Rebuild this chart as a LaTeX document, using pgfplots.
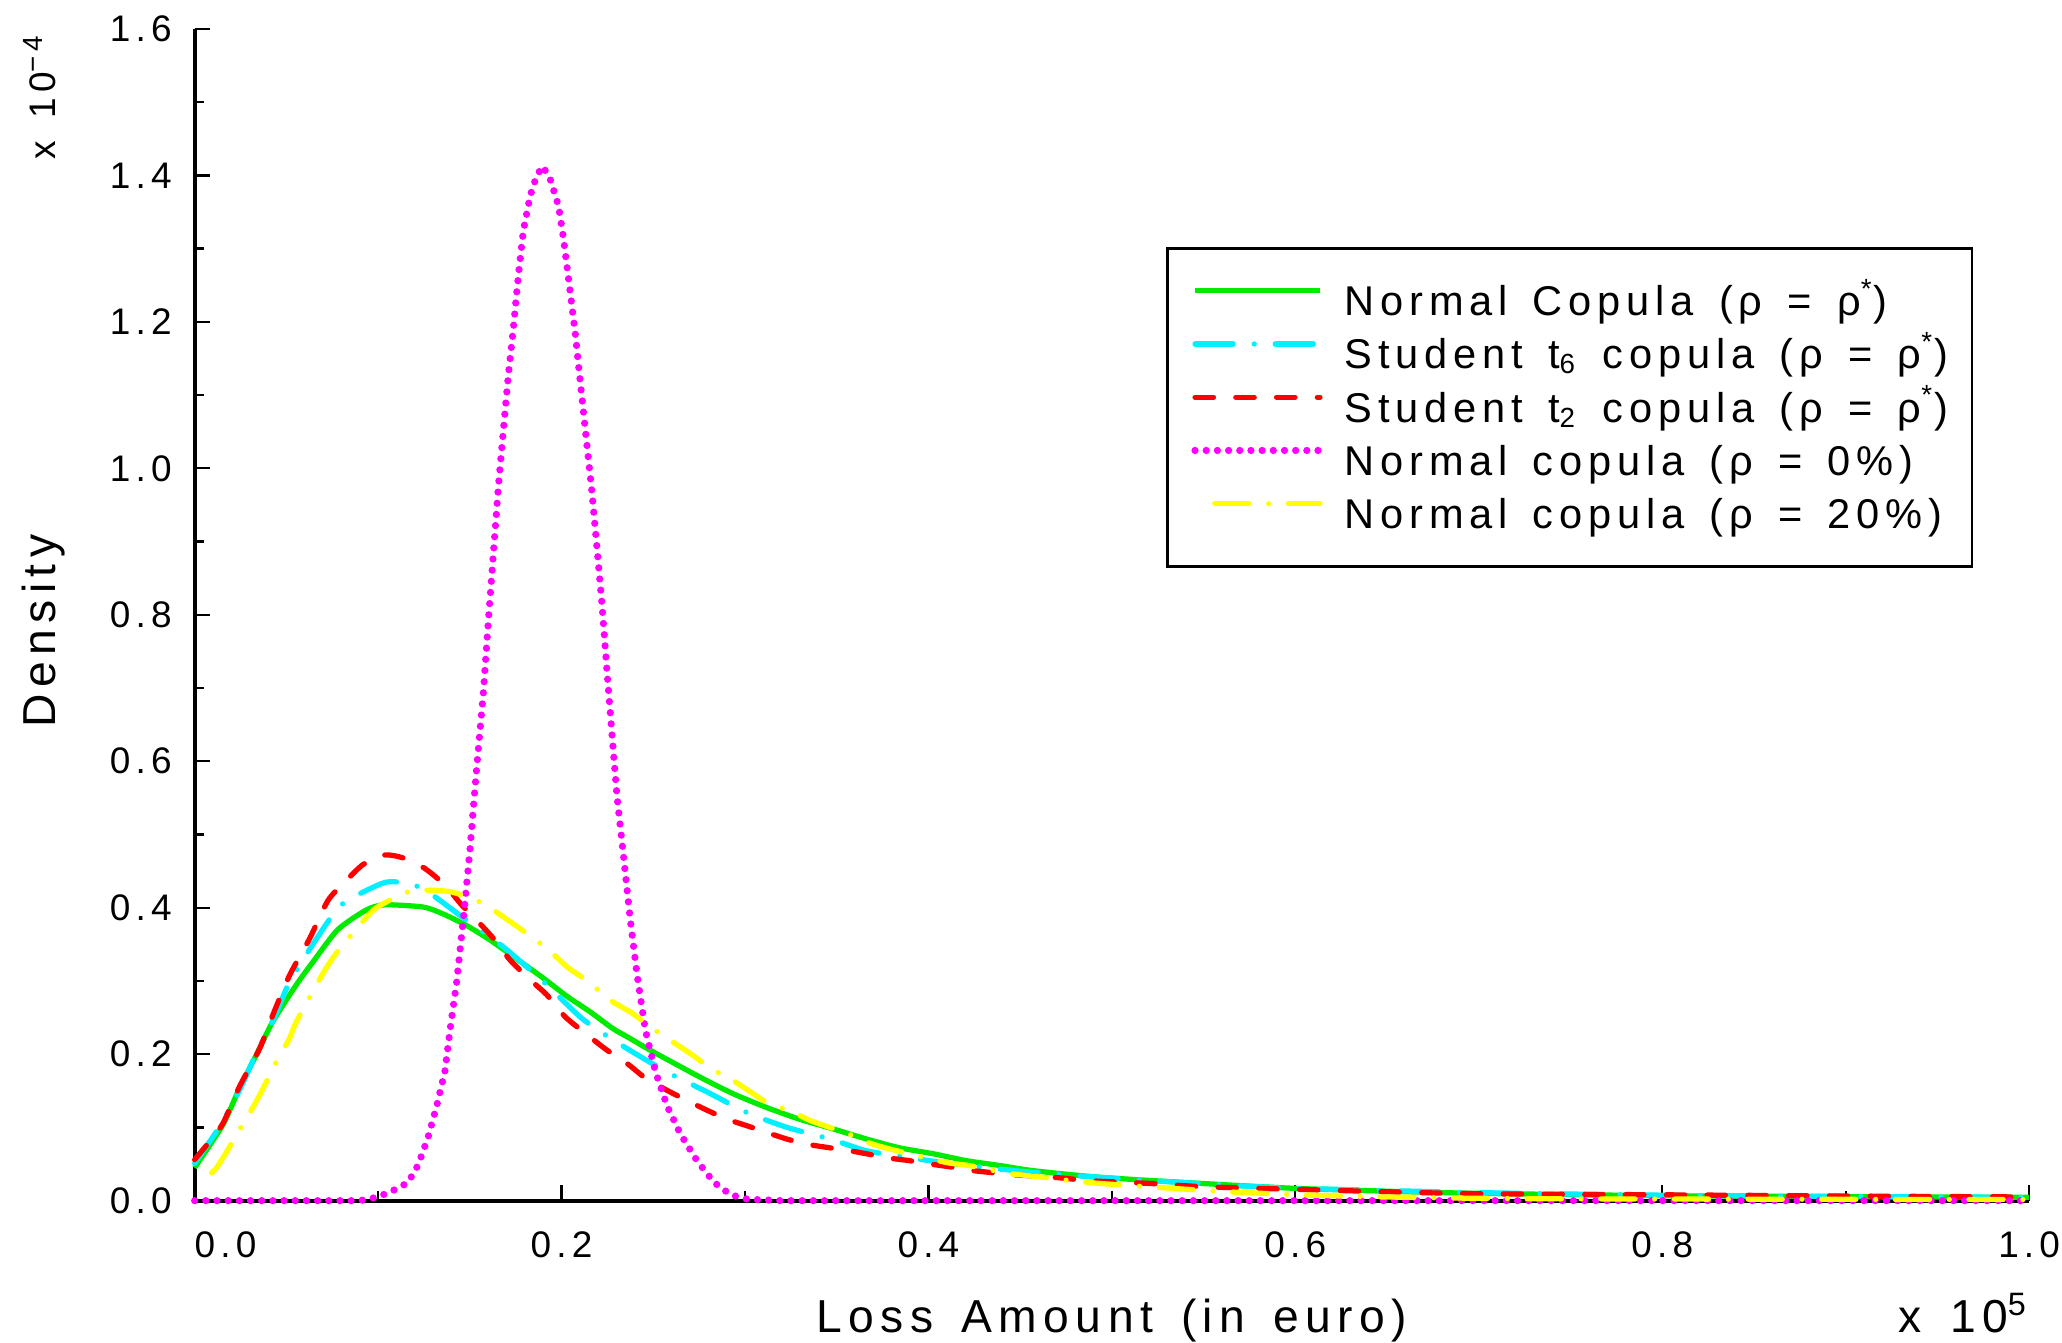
\documentclass[border=0pt]{standalone}
\usepackage{fontspec}
\setmainfont{Liberation Sans}[LetterSpace=14, WordSpace=1.45]
\usepackage{pgfplots}
\pgfplotsset{compat=1.18}
\definecolor{cgreen}{RGB}{0,235,0}
\definecolor{ccyan}{RGB}{0,240,255}
\definecolor{cred}{RGB}{255,0,0}
\definecolor{cmag}{RGB}{255,0,255}
\definecolor{cyel}{RGB}{255,255,0}

\begin{document}
\begin{tikzpicture}
\begin{axis}[
  scale only axis, width=139.5mm, height=89.1mm,
  xmin=0, xmax=1, ymin=0, ymax=1.6,
  clip=false,
  axis lines*=left,
  axis line style={line width=0.9pt},
  xtick={0,0.2,0.4,0.6,0.8,1},
  xticklabels={\makebox[0pt][l]{0.0},0.2,0.4,0.6,0.8,1.0},
  minor xtick={0.1,0.3,0.5,0.7,0.9},
  ytick={0,0.2,0.4,0.6,0.8,1,1.2,1.4,1.6},
  yticklabels={0.0,0.2,0.4,0.6,0.8,1.0,1.2,1.4,1.6},
  minor ytick={0.1,0.3,0.5,0.7,0.9,1.1,1.3,1.5},
  tick align=inside,
  major tick length=1.2mm, minor tick length=0.75mm,
  tick style={black, line width=0.5pt},
  xticklabel style={font=\fontsize{8}{9.6}\selectfont, yshift=-1.1mm},
  yticklabel style={font=\fontsize{8}{9.6}\selectfont, xshift=-0.5mm},
  xlabel={Loss Amount (in euro)},
  xlabel style={at={(axis description cs:0.5,-0.1122)}, anchor=base, font=\fontsize{10}{12}\selectfont},
  ylabel={Density},
  ylabel style={at={(axis description cs:-0.076,0.486)}, anchor=base, font=\fontsize{10}{12}\selectfont},
  legend style={
    at={(0.5297,0.8137)}, anchor=north west,
    draw=black, line width=0.6pt,
    inner xsep=1.8mm, inner ysep=2.5mm,
    font=\fontsize{9}{10}\selectfont,
    cells={anchor=west},
    row sep=1.05mm,
    nodes={inner sep=0pt, text height=2.6mm, text depth=0.4mm},
    /tikz/every odd column/.append style={column sep=1.6mm},
  },
  legend image code/.code={\draw[#1] (0mm,0.8mm) -- (9.5mm,0.8mm);},
]
% Normal copula, rho = rho*
\addplot[cgreen, line width=0.4mm, smooth, tension=0.4] coordinates {
(0,0.045) (0.0155,0.104) (0.0245,0.154) (0.0336,0.199) (0.0427,0.245)
(0.0555,0.295) (0.0645,0.326) (0.078,0.370) (0.0936,0.397) (0.1036,0.404)
(0.1245,0.401) (0.135,0.392) (0.148,0.376) (0.161,0.356) (0.175,0.331)
(0.190,0.304) (0.203,0.279) (0.2155,0.258) (0.228,0.235) (0.237,0.222)
(0.249,0.2045) (0.276,0.168) (0.294,0.1455) (0.312,0.127) (0.330,0.111)
(0.348,0.098) (0.3665,0.084) (0.3846,0.072) (0.4027,0.064) (0.421,0.0545)
(0.439,0.048) (0.457,0.041) (0.493,0.032) (0.549,0.0235) (0.6,0.0168)
(0.659,0.0123) (0.7,0.010) (0.8,0.0068) (0.9,0.0055) (1.0,0.0045)
};
% Student t6
\addplot[ccyan, line width=0.4mm, line cap=round, smooth, tension=0.4,
  dash pattern=on 2.9mm off 1.6mm on 0mm off 1.6mm] coordinates {
(0,0.051) (0.0136,0.101) (0.0245,0.151) (0.0336,0.201) (0.0436,0.251)
(0.0518,0.299) (0.0655,0.354) (0.080,0.404) (0.1018,0.433) (0.111,0.435)
(0.1245,0.426) (0.1455,0.388) (0.169,0.345) (0.191,0.297) (0.212,0.247)
(0.2355,0.208) (0.258,0.175) (0.2797,0.148) (0.3014,0.120) (0.323,0.100)
(0.3467,0.084) (0.3665,0.068) (0.3937,0.057) (0.421,0.048) (0.457,0.0386)
(0.493,0.032) (0.55,0.023) (0.6,0.017) (0.7,0.011) (0.8,0.0075)
(0.9,0.0058) (1.0,0.0045)
};
% Student t2
\addplot[cred, line width=0.4mm, line cap=round, smooth, tension=0.4,
  dash pattern=on 1.4mm off 1.7mm] coordinates {
(0,0.056) (0.0082,0.081) (0.0155,0.106) (0.0245,0.156) (0.0355,0.208)
(0.0427,0.254) (0.0518,0.308) (0.0627,0.358) (0.0727,0.410) (0.0818,0.435)
(0.0918,0.459) (0.1036,0.472) (0.1136,0.468) (0.1255,0.4536) (0.1364,0.431)
(0.1455,0.404) (0.1545,0.381) (0.1636,0.356) (0.1718,0.329) (0.1818,0.304)
(0.192,0.281) (0.202,0.251) (0.2127,0.229) (0.2245,0.206) (0.2364,0.186)
(0.2454,0.168) (0.258,0.150) (0.269,0.136) (0.2797,0.123) (0.2906,0.111)
(0.3014,0.102) (0.312,0.093) (0.323,0.084) (0.334,0.077) (0.3467,0.072)
(0.3575,0.068) (0.3684,0.063) (0.379,0.058) (0.390,0.0545) (0.401,0.050)
(0.4136,0.0455) (0.4244,0.041) (0.446,0.0355) (0.468,0.032) (0.4895,0.027)
(0.52,0.0236) (0.55,0.019) (0.6,0.0155) (0.66,0.0115) (0.7,0.0095)
(0.8,0.008) (0.9,0.0064) (1.0,0.005)
};
% Normal copula, rho = 0%
\addplot[cmag, line width=0.55mm, line cap=round, dash pattern=on 0mm off 0.85mm] coordinates {
(0,0) (0.09,0) (0.1,0.005) (0.110,0.016) (0.1164,0.025) (0.1219,0.049)
(0.1273,0.087) (0.1319,0.129) (0.1364,0.176) (0.1392,0.2326) (0.1428,0.298)
(0.1464,0.383) (0.150,0.477) (0.1537,0.590) (0.1574,0.694) (0.160,0.788)
(0.1628,0.882) (0.1656,0.976) (0.1683,1.052) (0.171,1.127) (0.1738,1.193)
(0.1765,1.264) (0.1792,1.325) (0.1829,1.372) (0.1865,1.400) (0.1898,1.4125)
(0.1938,1.395) (0.1984,1.358) (0.201,1.315) (0.2038,1.259) (0.2075,1.184)
(0.2102,1.118) (0.2138,1.033) (0.2166,0.967) (0.2193,0.892) (0.2220,0.816)
(0.2248,0.722) (0.2275,0.637) (0.2302,0.553) (0.2339,0.468) (0.2375,0.383)
(0.2412,0.308) (0.2457,0.2326) (0.2512,0.176) (0.2576,0.129) (0.2648,0.091)
(0.274,0.054) (0.2831,0.025) (0.2922,0.008) (0.3013,0.002) (0.32,0) (1.0,0)
};
% Normal copula, rho = 20%
\addplot[cyel, line width=0.4mm, line cap=round, smooth, tension=0.4,
  dash pattern=on 2.6mm off 1.5mm on 0mm off 1.5mm, dash phase=4.1mm] coordinates {
(0.0009,0.021) (0.0118,0.0445) (0.0245,0.097) (0.0305,0.122) (0.0355,0.1445)
(0.0455,0.1945) (0.0513,0.2195) (0.0555,0.2445) (0.0664,0.2945) (0.0718,0.318)
(0.0785,0.342) (0.0964,0.3945) (0.107,0.411) (0.117,0.422) (0.128,0.424)
(0.139,0.422) (0.151,0.413) (0.161,0.400) (0.1827,0.362) (0.194,0.340)
(0.2036,0.318) (0.2136,0.301) (0.2264,0.274) (0.2385,0.256) (0.249,0.236)
(0.2707,0.200) (0.282,0.1795) (0.2924,0.166) (0.312,0.134) (0.3246,0.1227)
(0.336,0.109) (0.3566,0.091) (0.368,0.0786) (0.379,0.0705) (0.401,0.057)
(0.4114,0.0514) (0.4226,0.0477) (0.443,0.0373) (0.455,0.034) (0.486,0.025)
(0.52,0.019) (0.56,0.0125) (0.6,0.0082) (0.64,0.0055) (0.69,0.0035)
(0.75,0.0025) (0.85,0.002) (1.0,0.0015)
};
\legend{Normal Copula (ρ = ρ\textsuperscript{*}),
  Student t\textsubscript{6} copula (ρ = ρ\textsuperscript{*}),
  Student t\textsubscript{2} copula (ρ = ρ\textsuperscript{*}),
  Normal copula (ρ = 0\%),
  Normal copula (ρ = 20\%)}
\node[anchor=base east, inner sep=0pt, font=\fontsize{10}{12}\selectfont] at (rel axis cs:1,-0.1122) {x 10\textsuperscript{5}};
\node[rotate=90, anchor=base west, inner sep=0pt, font=\fontsize{8}{10}\selectfont] at (rel axis cs:-0.076,0.888) {x 10\textsuperscript{−4}};
\coordinate (o) at (rel axis cs:0,0);
\end{axis}
\pgfresetboundingbox
\path (o) ++(-14.8mm,-10.8mm) rectangle ++(156.8mm,102.1mm);
\end{tikzpicture}
\end{document}
